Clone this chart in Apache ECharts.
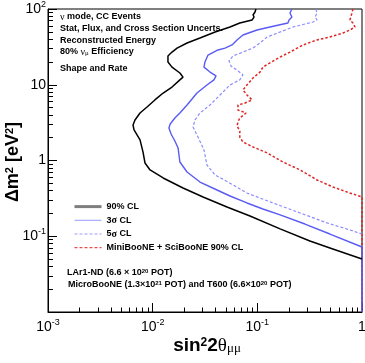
<!DOCTYPE html>
<html>
<head>
<meta charset="utf-8">
<script src="https://cdn.jsdelivr.net/npm/echarts@6/dist/echarts.min.js"></script>
<style>
html, body { margin: 0; padding: 0; background: #fff; }
#chart { width: 365px; height: 363px; }
</style>
</head>
<body>
<div id="chart"></div>
<script>
// contours, [sin^2 2theta, dm^2 (eV^2)]
var cl90 = [[0.097,100],[0.095,91.3],[0.091,83.3],[0.093,78.3],[0.089,71.6],[0.068,65.3],[0.0548,57.8],[0.0395,49.7],[0.0283,41.4],[0.0213,35.6],[0.0171,30.5],[0.0153,27.0],[0.0140,24.0],[0.0140,20.0],[0.0153,17.1],[0.0182,14.3],[0.0195,12.6],[0.0182,11.6],[0.0153,9.33],[0.0126,7.78],[0.0105,6.30],[0.00883,5.08],[0.00757,4.24],[0.00678,3.43],[0.00649,2.94],[0.00664,2.53],[0.00757,1.87],[0.00809,1.29],[0.00845,0.927],[0.00944,0.750],[0.0126,0.588],[0.0195,0.434],[0.0303,0.330],[0.0513,0.243],[0.0851,0.185],[0.165,0.125],[0.318,0.0865],[0.494,0.070],[1,0.050]];
var sigma3 = [[0.214,100],[0.205,88.6],[0.214,78.3],[0.201,71.6],[0.196,65.3],[0.132,57.8],[0.0993,52.8],[0.0729,45.4],[0.0640,39.0],[0.0573,33.5],[0.0491,30.5],[0.0421,28.8],[0.0338,24.7],[0.0316,20.0],[0.0309,17.1],[0.0353,14.7],[0.0403,13.1],[0.0385,11.6],[0.0330,9.93],[0.0265,7.78],[0.0213,5.41],[0.0182,4.24],[0.0163,3.64],[0.0147,3.03],[0.0143,2.69],[0.0150,2.24],[0.0163,1.81],[0.0175,1.46],[0.0182,0.955],[0.0213,0.705],[0.0283,0.520],[0.0412,0.408],[0.0548,0.340],[0.0796,0.275],[0.113,0.229],[0.165,0.191],[0.285,0.145],[0.494,0.107],[1,0.0721],[1,0.01]];
var sigma5 = [[0.363,100],[0.372,88.6],[0.356,78.3],[0.372,71.6],[0.340,67.3],[0.219,57.8],[0.165,49.7],[0.124,42.7],[0.106,35.6],[0.091,30.5],[0.0729,27.0],[0.0585,24.0],[0.0536,20.6],[0.0560,17.7],[0.0653,15.2],[0.0729,13.5],[0.068,11.6],[0.0548,9.93],[0.0440,7.33],[0.0353,5.41],[0.0283,4.24],[0.0254,3.43],[0.0243,2.77],[0.0271,2.04],[0.0309,1.38],[0.0330,0.873],[0.0395,0.644],[0.0525,0.520],[0.0796,0.372],[0.141,0.275],[0.256,0.203],[0.463,0.150],[0.767,0.121],[1,0.107]];
var mbsb = [[0.820,100],[0.802,88.6],[0.767,71.6],[0.820,65.3],[0.857,57.8],[0.767,52.8],[0.658,48.2],[0.494,42.7],[0.372,39.0],[0.273,33.5],[0.205,27.0],[0.165,23.2],[0.132,19.4],[0.113,17.1],[0.106,14.7],[0.091,12.3],[0.0796,9.93],[0.0729,8.53],[0.0796,7.33],[0.089,6.30],[0.0762,5.74],[0.0653,5.41],[0.0653,4.64],[0.078,4.24],[0.068,3.64],[0.0653,3.22],[0.064,2.85],[0.068,2.45],[0.068,2.04],[0.0729,1.75],[0.091,1.51],[0.124,1.26],[0.176,0.955],[0.256,0.750],[0.372,0.553],[0.528,0.447],[0.767,0.372],[1,0.330],[1,0.01]];

// ticks
var xMajorTicks = [0.001, 0.01, 0.1, 1];
var xMinorTicks = [0.002,0.003,0.004,0.005,0.006,0.007,0.008,0.009,0.02,0.03,0.04,0.05,0.06,0.07,0.08,0.09,0.2,0.3,0.4,0.5,0.6,0.7,0.8,0.9];
var yMajorTicks = [0.01, 0.1, 1, 10, 100];
var yLabelValues = [0.1, 1, 10, 100];
var yMinorTicks = [0.02,0.03,0.04,0.05,0.06,0.07,0.08,0.09,0.2,0.3,0.4,0.5,0.6,0.7,0.8,0.9,2,3,4,5,6,7,8,9,20,30,40,50,60,70,80,90];

var SANS = 'Liberation Sans';
var SERIF = 'Liberation Serif';

function powLabel(v) {
    var e = Math.round(Math.log10(v));
    if (e === 0) return '{b|1}';
    if (e === 1) return '{b|10}';
    return '{b|10}{s|' + e + '}';
}
var labelRich = {
    b: { fontFamily: SANS, fontSize: 14, color: '#000', lineHeight: 18 },
    s: { fontFamily: SANS, fontSize: 9, color: '#000', verticalAlign: 'top', lineHeight: 10 }
};

var chart = echarts.init(document.getElementById('chart'));

var noSymbol = { opacity: 0 };

var option = {
    animation: false,
    backgroundColor: '#fff',
    grid: {
        left: 48, right: 3, top: 9, bottom: 51,
        show: true, borderColor: '#000', borderWidth: 1,
        outerBoundsMode: 'none'
    },
    xAxis: [
        {
            type: 'log', logBase: 10, min: 0.001, max: 1,
            axisLine: { show: true, lineStyle: { color: '#000', width: 1 } },
            axisTick: { show: true, inside: true, length: 9, customValues: xMajorTicks, lineStyle: { color: '#000' } },
            axisLabel: { customValues: xMajorTicks, formatter: powLabel, rich: labelRich, margin: 6, showMinLabel: true, showMaxLabel: true },
            splitLine: { show: false },
            minorTick: { show: false }
        },
        {
            type: 'log', logBase: 10, min: 0.001, max: 1, position: 'bottom',
            axisLine: { show: false },
            axisTick: { show: true, inside: true, length: 4.5, customValues: xMinorTicks, lineStyle: { color: '#000' } },
            axisLabel: { show: false },
            splitLine: { show: false }
        }
    ],
    yAxis: [
        {
            type: 'log', logBase: 10, min: 0.01, max: 100,
            axisLine: { show: true, lineStyle: { color: '#000', width: 1 } },
            axisTick: { show: true, inside: true, length: 9, customValues: yMajorTicks, lineStyle: { color: '#000' } },
            axisLabel: { customValues: yLabelValues, formatter: powLabel, rich: labelRich, margin: 2, showMinLabel: true, showMaxLabel: true },
            splitLine: { show: false },
            minorTick: { show: false }
        },
        {
            type: 'log', logBase: 10, min: 0.01, max: 100, position: 'left',
            axisLine: { show: false },
            axisTick: { show: true, inside: true, length: 5, customValues: yMinorTicks, lineStyle: { color: '#000' } },
            axisLabel: { show: false },
            splitLine: { show: false }
        }
    ],
    legend: {
        orient: 'vertical', left: 73, top: 201, padding: 0,
        itemGap: 2.5, itemWidth: 27, itemHeight: 14, selectedMode: false,
        itemStyle: noSymbol,
        textStyle: { fontFamily: SANS, fontWeight: 'bold', fontSize: 9, color: '#000',
            rich: { g: { fontFamily: SERIF, fontSize: 10, color: '#000' } } },
        formatter: function (name) { return name.replace('σ', '{g|σ}'); },
        data: [
            { name: '90% CL', itemStyle: noSymbol, lineStyle: { color: '#7f7f7f', width: 3 } },
            { name: '3σ CL', itemStyle: noSymbol, lineStyle: { color: '#9a9aff', width: 1 } },
            { name: '5σ CL', itemStyle: noSymbol, lineStyle: { color: '#9a9aff', width: 1, type: [3, 2] } },
            { name: 'MiniBooNE + SciBooNE 90% CL', itemStyle: noSymbol, lineStyle: { color: '#e02424', width: 1, type: [3, 2] } }
        ]
    },
    series: [
        { type: 'line', name: 'MiniBooNE + SciBooNE 90% CL', data: mbsb, symbol: 'none', silent: true,
          lineStyle: { color: '#e02424', width: 1.5, type: [2.5, 2] }, itemStyle: { color: '#e02424' }, z: 2 },
        { type: 'line', name: '5σ CL', data: sigma5, symbol: 'none', silent: true,
          lineStyle: { color: '#8c8cff', width: 1.2, type: [3, 2] }, itemStyle: { color: '#8c8cff' }, z: 3 },
        { type: 'line', name: '3σ CL', data: sigma3, symbol: 'none', silent: true,
          lineStyle: { color: '#5a5af5', width: 1.4 }, itemStyle: { color: '#5a5af5' }, z: 4 },
        { type: 'line', name: '90% CL', data: cl90, symbol: 'none', silent: true,
          lineStyle: { color: '#000', width: 1.5 }, itemStyle: { color: '#000' }, z: 5 }
    ],
    graphic: { elements: [
        { type: 'text', x: 60, y: 17, style: { text: '{g|ν} mode, CC Events', fontFamily: SANS, fontWeight: 'bold', fontSize: 9, fill: '#000', verticalAlign: 'middle',
            rich: { g: { fontFamily: SERIF, fontSize: 10 } } } },
        { type: 'text', x: 60, y: 29, style: { text: 'Stat, Flux, and Cross Section Uncerts.', fontFamily: SANS, fontWeight: 'bold', fontSize: 9, fill: '#000', verticalAlign: 'middle' } },
        { type: 'text', x: 60, y: 41, style: { text: 'Reconstructed Energy', fontFamily: SANS, fontWeight: 'bold', fontSize: 9, fill: '#000', verticalAlign: 'middle' } },
        { type: 'text', x: 60, y: 52, style: { text: '80% {g|ν}{u|μ} Efficiency', fontFamily: SANS, fontWeight: 'bold', fontSize: 9, fill: '#000', verticalAlign: 'middle',
            rich: { g: { fontFamily: SERIF, fontSize: 10 }, u: { fontFamily: SERIF, fontSize: 7, verticalAlign: 'bottom', lineHeight: 8, padding: [4, 0, 0, 0] } } } },
        { type: 'text', x: 60, y: 69, style: { text: 'Shape and Rate', fontFamily: SANS, fontWeight: 'bold', fontSize: 9, fill: '#000', verticalAlign: 'middle' } },
        { type: 'text', x: 67, y: 273, style: { text: 'LAr1-ND (6.6 × 10{s|20} POT)', fontFamily: SANS, fontWeight: 'bold', fontSize: 9, fill: '#000', verticalAlign: 'middle',
            rich: { s: { fontFamily: SANS, fontWeight: 'bold', fontSize: 6, verticalAlign: 'top', lineHeight: 7 } } } },
        { type: 'text', x: 68, y: 285, style: { text: 'MicroBooNE (1.3×10{s|21} POT) and T600 (6.6×10{s|20} POT)', fontFamily: SANS, fontWeight: 'bold', fontSize: 9, fill: '#000', verticalAlign: 'middle',
            rich: { s: { fontFamily: SANS, fontWeight: 'bold', fontSize: 6, verticalAlign: 'top', lineHeight: 7 } } } },
        { type: 'text', x: 207, y: 346, style: { text: '{m|sin}{s|2}{m|2}{t|θ}{u|μμ}', fill: '#000', align: 'center', verticalAlign: 'middle',
            rich: { m: { fontFamily: SANS, fontWeight: 'bold', fontSize: 19, lineHeight: 19 },
                    s: { fontFamily: SANS, fontWeight: 'bold', fontSize: 12, verticalAlign: 'top', lineHeight: 12, padding: [0, 0, 12, 0] },
                    t: { fontFamily: SERIF, fontSize: 19, lineHeight: 19 },
                    u: { fontFamily: SERIF, fontSize: 13, verticalAlign: 'bottom', lineHeight: 13, padding: [8, 0, 0, 0] } } } },
        { type: 'text', x: 13, y: 162, rotation: Math.PI / 2, style: { text: 'Δm{s|2} [eV{s|2}]', fontFamily: SANS, fontWeight: 'bold', fontSize: 18, fill: '#000', align: 'center', verticalAlign: 'middle',
            rich: { s: { fontFamily: SANS, fontWeight: 'bold', fontSize: 11, verticalAlign: 'top', lineHeight: 11 } } } }
    ] }
};

chart.setOption(option);
</script>
</body>
</html>
